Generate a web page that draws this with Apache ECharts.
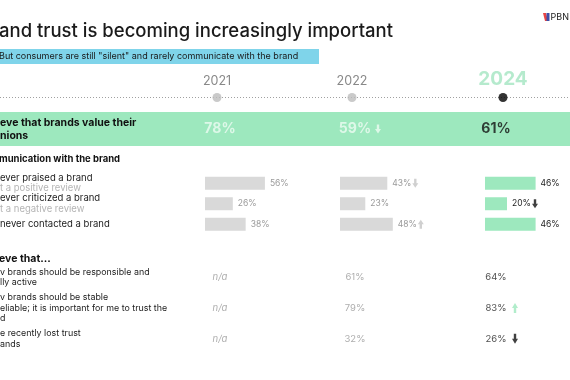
<!DOCTYPE html>
<html><head><meta charset="utf-8">
<script src="https://cdn.jsdelivr.net/npm/echarts@6/dist/echarts.min.js"></script>
<style>html,body{margin:0;padding:0;background:#fff}#c{width:570px;height:380px}</style>
</head><body><div id="c"></div>
<script>
// ---- data ----
const titleText = 'and trust is becoming increasingly important';
const subtitleText = 'But consumers are still "silent" and rarely communicate with the brand';
const years = ['2021', '2022', '2024'];
const trustLabel = ['eve that brands value their', 'nions'];
const trustValues = [78, 59, 61];
const trustTrend = [null, 'down', null];
const commTitle = 'munication with the brand';
const commRows = ['ever praised a brand', 'ever criticized a brand', 'never contacted a brand'];
const commSubs = ['t a positive review', 't a negative review', ''];
const comm2021 = [56, 26, 38];
const comm2022 = [43, 23, 48];
const comm2024 = [46, 20, 46];
const commTrend2021 = [null, null, null];
const commTrend2022 = ['down', null, 'up'];
const commTrend2024 = [null, 'down', null];
const beliefTitle = 'eve that...';
const beliefRows = [
  ['v brands should be responsible and', 'lly active'],
  ['v brands should be stable', 'eliable; it is important for me to trust the', 'd'],
  ['e recently lost trust', 'ands']
];
const belief2021 = [null, null, null];
const belief2022 = [61, 79, 32];
const belief2024 = [64, 83, 26];
const beliefTrend2021 = [null, null, null];
const beliefTrend2022 = [null, null, null];
const beliefTrend2024 = [null, 'up', 'down'];

// ---- layout / style ----
const FONT = 'Inter, "Noto Sans", sans-serif';
const GREEN = '#9de8be';
const dotX = [217, 352, 503];
const txtX = [220, 355, 496];
const barX = [205, 340, 485];
const barW = [107, 110, 110];
const commVals = [comm2021, comm2022, comm2024];
const commTrends = [commTrend2021, commTrend2022, commTrend2024];
const beliefVals = [belief2021, belief2022, belief2024];
const beliefTrends = [beliefTrend2021, beliefTrend2022, beliefTrend2024];
const DOWN = 'path://M3,0 H7 V6 H10 L5,12 L0,6 H3 Z';
const UP = 'path://M5,0 L10,6 H7 V12 H3 V6 H0 Z';

const grid = [], xAxis = [], yAxis = [], series = [];
function addGrid(g, xa, ya) {
  const i = grid.length;
  grid.push(Object.assign({ containLabel: false, outerBoundsMode: 'none' }, g));
  xAxis.push(Object.assign({ gridIndex: i, show: false }, xa));
  yAxis.push(Object.assign({ gridIndex: i, show: false }, ya));
  return i;
}
const hiddenY = { axisLine: { show: false }, axisTick: { show: false }, splitLine: { show: false } };

for (let c = 0; c < 3; c++) {
  // timeline
  let gi = addGrid({ left: dotX[c] - 20, width: 40, top: 90, height: 15 },
    { type: 'category', data: [years[c]] }, { type: 'category', data: ['t'] });
  const last = c === 2;
  series.push({
    type: 'scatter', xAxisIndex: gi, yAxisIndex: gi, symbolSize: 9,
    itemStyle: { color: last ? '#000' : '#bdbdbd' },
    data: [[0, 0]],
    label: { show: true, position: 'top', distance: last ? 4 : 5, formatter: years[c],
      fontFamily: FONT, fontSize: last ? 19 : 12.5, fontWeight: last ? 'bold' : 'normal',
      color: last ? '#a3e5c0' : '#6a6a6a' }
  });
  // trust row
  gi = addGrid({ left: txtX[c] - 20, width: 40, top: 112, height: 34 },
    { type: 'category', data: [years[c]] },
    c === 0 ? Object.assign({ type: 'category', data: ['trust'], show: true,
      axisLabel: { show: true, align: 'left', margin: txtX[0] - 20,
        formatter: () => trustLabel.join('\n'), fontFamily: FONT, fontSize: 10.5,
        fontWeight: 'bold', color: '#111', lineHeight: 13 } }, hiddenY)
      : { type: 'category', data: ['trust'] });
  series.push({
    type: 'scatter', xAxisIndex: gi, yAxisIndex: gi, symbolSize: 0,
    data: [[0, 0]],
    label: { show: true, position: 'inside', formatter: trustValues[c] + '%',
      fontFamily: FONT, fontSize: 14, fontWeight: 'bold', color: last ? '#111' : '#eefbf3' }
  });
  if (trustTrend[c]) {
    series.push({ type: 'scatter', xAxisIndex: gi, yAxisIndex: gi,
      symbol: trustTrend[c] === 'down' ? DOWN : UP, symbolSize: [6, 9], symbolOffset: [23, 0],
      itemStyle: { color: '#eefbf3' }, data: [[0, 0]] });
  }
  // bars
  gi = addGrid({ left: barX[c], width: barW[c], top: 173, height: 61.5 },
    { type: 'value', min: 0, max: 100 },
    c === 0 ? Object.assign({ type: 'category', data: commRows, inverse: true, show: true,
      axisLabel: { show: true, interval: 0, align: 'left', margin: barX[0],
        formatter: (v, i) => '{a|' + v + '}' + (commSubs[i] ? '\n{b|' + commSubs[i] + '}' : ''),
        rich: { a: { fontFamily: FONT, fontSize: 9.5, color: '#1c1c1c', lineHeight: 10.5 },
                b: { fontFamily: FONT, fontSize: 9.5, color: '#b5b5b5', lineHeight: 10.5 } } } }, hiddenY)
      : { type: 'category', data: commRows, inverse: true });
  series.push({
    type: 'bar', xAxisIndex: gi, yAxisIndex: gi, barWidth: 13,
    itemStyle: { color: last ? GREEN : '#d9d9d9' },
    data: commVals[c],
    label: { show: true, position: 'right', distance: 5, formatter: '{c}%',
      fontFamily: FONT, fontSize: 8.5, color: last ? '#1c1c1c' : '#9a9a9a' }
  });
  const ad = [], au = [];
  commTrends[c].forEach((t, i) => { if (t === 'down') ad.push([commVals[c][i], i]); if (t === 'up') au.push([commVals[c][i], i]); });
  [[ad, DOWN], [au, UP]].forEach(([d, sym]) => {
    if (d.length) series.push({ type: 'scatter', xAxisIndex: gi, yAxisIndex: gi, symbol: sym,
      symbolSize: [6, 9], symbolOffset: [28, 0], itemStyle: { color: last ? '#111' : '#c4c4c4' }, data: d });
  });
  // beliefs
  gi = addGrid({ left: txtX[c] - 20, width: 40, top: 262, height: 92 },
    { type: 'category', data: [years[c]] },
    c === 0 ? Object.assign({ type: 'category', data: beliefRows.map(r => r.join('\n')), inverse: true, show: true,
      axisLabel: { show: true, interval: 0, align: 'left', margin: txtX[0] - 20,
        fontFamily: FONT, fontSize: 8.9, color: '#1c1c1c', lineHeight: 10.5 } }, hiddenY)
      : { type: 'category', data: beliefRows.map(r => r.join('\n')), inverse: true });
  series.push({
    type: 'scatter', xAxisIndex: gi, yAxisIndex: gi, symbolSize: 0,
    data: beliefVals[c].map((v, i) => ({ value: [0, i], name: v == null ? 'n/a' : v + '%' })),
    label: { show: true, position: 'inside', formatter: '{b}', fontFamily: FONT, fontSize: 9.5,
      fontStyle: c === 0 ? 'italic' : 'normal', color: last ? '#1c1c1c' : '#999' }
  });
  beliefTrends[c].forEach((t, i) => {
    if (!t) return;
    series.push({ type: 'scatter', xAxisIndex: gi, yAxisIndex: gi, symbol: t === 'down' ? DOWN : UP,
      symbolSize: [6, 10], symbolOffset: [19, 0], itemStyle: { color: t === 'up' ? GREEN : '#111' },
      data: [[0, i]] });
  });
}

const chart = echarts.init(document.getElementById('c'), null, { renderer: 'canvas' });
chart.setOption({
  backgroundColor: '#fff',
  animation: false,
  grid, xAxis, yAxis, series,
  graphic: [
    { type: 'rect', z: -10, shape: { x: 0, y: 112, width: 570, height: 34 }, style: { fill: GREEN } },
    { type: 'line', z: -10, shape: { x1: 0, y1: 97.5, x2: 570, y2: 97.5 }, style: { stroke: '#a0a0a0', lineWidth: 1, lineDash: [1, 2] } },
    { type: 'rect', shape: { x: 0, y: 49, width: 319, height: 15 }, style: { fill: '#7fd4ea' } },
    { type: 'text', x: -1, y: 56.5, style: { text: subtitleText, fontFamily: FONT, fontSize: 9, fill: '#1a1a1a', verticalAlign: 'middle', textVerticalAlign: 'middle' } },
    { type: 'text', x: -1, y: 31, style: { text: titleText, fontFamily: FONT, fontSize: 18.5, fontWeight: 500, fill: '#1a1a1a', verticalAlign: 'middle', textVerticalAlign: 'middle' } },
    { type: 'polygon', shape: { points: [[543, 13], [546, 13], [548, 21], [545, 21]] }, style: { fill: '#e64545' } },
    { type: 'rect', shape: { x: 546.5, y: 13, width: 3, height: 8 }, style: { fill: '#3c4fa8' } },
    { type: 'text', x: 550.5, y: 17, style: { text: 'PBN', fontFamily: FONT, fontSize: 9, fill: '#222', verticalAlign: 'middle', textVerticalAlign: 'middle' } },
    { type: 'text', x: -1, y: 159, style: { text: commTitle, fontFamily: FONT, fontSize: 9.5, fontWeight: 'bold', fill: '#111', verticalAlign: 'middle', textVerticalAlign: 'middle' } },
    { type: 'text', x: -1, y: 259, style: { text: beliefTitle, fontFamily: FONT, fontSize: 10.5, fontWeight: 'bold', fill: '#111', verticalAlign: 'middle', textVerticalAlign: 'middle' } }
  ]
});
</script></body></html>
